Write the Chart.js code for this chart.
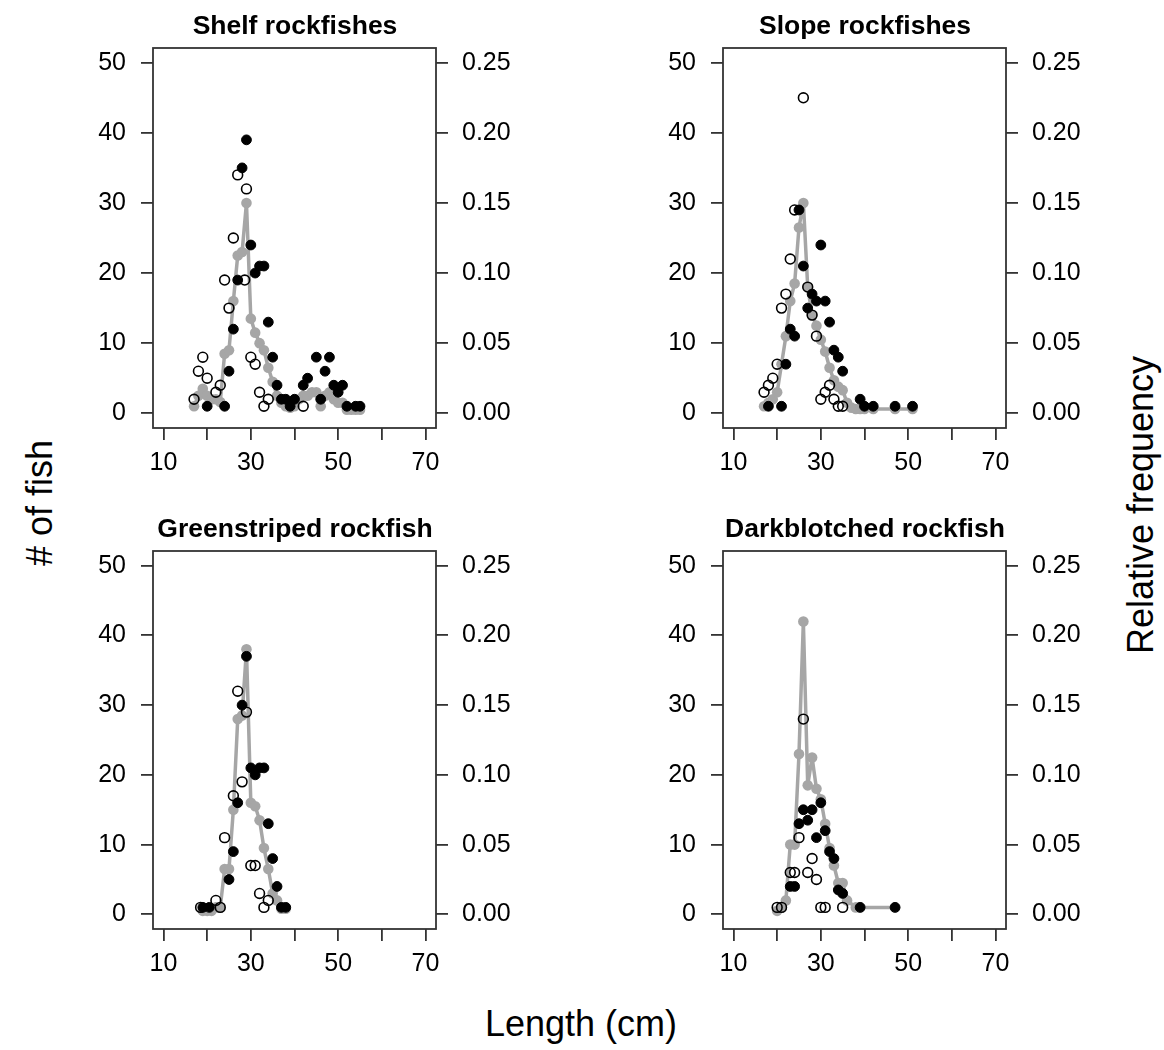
<!DOCTYPE html>
<html>
<head>
<meta charset="utf-8">
<script src="https://cdn.jsdelivr.net/npm/chart.js@4.4.1/dist/chart.umd.min.js"></script>
<style>
  html, body { margin: 0; padding: 0; background: #ffffff; }
  #wrap { position: relative; width: 1164px; height: 1050px; background: #ffffff; overflow: hidden;
          font-family: "Liberation Sans", Arial, Helvetica, sans-serif; color: #000; }
  canvas { position: absolute; }
  .axt { position: absolute; font-size: 36px; white-space: nowrap; line-height: 1; }
</style>
</head>
<body>
<div id="wrap">
  <canvas id="c0" width="450" height="490" style="left:70px;top:0px;"></canvas>
  <canvas id="c1" width="450" height="490" style="left:640px;top:0px;"></canvas>
  <canvas id="c2" width="450" height="488" style="left:70px;top:503px;"></canvas>
  <canvas id="c3" width="450" height="488" style="left:640px;top:503px;"></canvas>
  <div class="axt" style="left:40px;top:503px;transform:translate(-50%,-50%) rotate(-90deg);"># of fish</div>
  <div class="axt" style="left:1141px;top:505px;transform:translate(-50%,-50%) rotate(-90deg);">Relative frequency</div>
  <div class="axt" style="left:581px;top:1024px;transform:translate(-50%,-50%);">Length (cm)</div>
</div>
<script>
// ---- tick labels ----
const xTicks = [10, 20, 30, 40, 50, 60, 70];
const xLabeled = [10, 30, 50, 70];
const countTicks = [0, 10, 20, 30, 40, 50];
const relTicks = [0, 0.05, 0.10, 0.15, 0.20, 0.25];

// ---- panel titles ----
const titles = ["Shelf rockfishes", "Slope rockfishes", "Greenstriped rockfish", "Darkblotched rockfish"];

// ---- Shelf rockfishes: [length cm, # of fish] ----
const shelfOpen = [[17,2],[18,6],[19,8],[20,5],[22,3],[23,4],[24,19],[25,15],[26,25],[27,34],[28.6,19],[29,32],[30,8],[31,7],[32,3],[33,1],[34,2],[42,1]];
const shelfFilled = [[20,1],[24,1],[25,6],[26,12],[27,19],[28,35],[29,39],[30,24],[31,20],[32,21],[33,21],[34,13],[35,8],[36,4],[37,2],[38,2],[39,1],[40,2],[42,4],[43,5],[45,8],[46,2],[47,6],[48,8],[49,4],[50,3],[51,4],[52,1],[54,1],[55,1]];
// relative frequency [length cm, proportion]
const shelfRel = [[17,0.005],[18,0.0125],[19,0.0175],[20,0.0125],[21,0.01],[22,0.01],[23,0.008],[24,0.0425],[25,0.045],[26,0.08],[27,0.1125],[28,0.115],[29,0.15],[30,0.0675],[31,0.0575],[32,0.05],[33,0.045],[34,0.0325],[35,0.0225],[36,0.0125],[37,0.0075],[38,0.005],[39,0.004],[40,0.005],[41,0.01],[42,0.0125],[43,0.0125],[44,0.015],[45,0.015],[46,0.005],[47,0.0125],[48,0.015],[49,0.01],[50,0.0075],[51,0.0075],[52,0.0025],[53,0.0025],[54,0.0025],[55,0.0025]];

// ---- Slope rockfishes ----
const slopeOpen = [[17,3],[18,4],[19,5],[20,7],[21,15],[22,17],[23,22],[24,29],[26,45],[27,18],[28,14],[29,11],[30,2],[31,3],[32,4],[33,2],[34,1],[35,1]];
const slopeFilled = [[18,1],[21,1],[22,7],[23,12],[24,11],[25,29],[26,21],[27,15],[28,17],[29,16],[30,24],[31,16],[32,13],[33,9],[34,8],[35,6],[39,2],[40,1],[42,1],[47,1],[51,1]];
const slopeRel = [[17,0.005],[18,0.0075],[19,0.01],[20,0.015],[21,0.035],[22,0.055],[23,0.08],[24,0.0925],[25,0.1325],[26,0.15],[27,0.09],[28,0.07],[29,0.0625],[30,0.0525],[31,0.044],[32,0.0325],[33,0.0235],[34,0.019],[35,0.0165],[36,0.0075],[37,0.004],[38,0.003],[39,0.003],[40,0.003],[42,0.003],[47,0.003],[51,0.003]];

// ---- Greenstriped rockfish ----
const greenOpen = [[18.5,1],[22,2],[23,1],[24,11],[26,17],[27,32],[28,19],[29,29],[30,7],[31,7],[32,3],[33,1],[34,2]];
const greenFilled = [[19,1],[20.5,1],[25,5],[26,9],[27,16],[28,30],[29,37],[30,21],[31,20],[32,21],[33,21],[34,13],[35,8],[36,4],[37,1],[38,1]];
const greenRel = [[19,0.0025],[20,0.0025],[21,0.0025],[22,0.005],[23,0.005],[24,0.0325],[25,0.0325],[26,0.075],[27,0.14],[28,0.1425],[29,0.19],[30,0.08],[31,0.0775],[32,0.0675],[33,0.0475],[34,0.0325],[35,0.015],[36,0.01],[37,0.004],[38,0.004]];

// ---- Darkblotched rockfish ----
const darkOpen = [[20,1],[21,1],[23,6],[24,6],[25,11],[26,28],[27,6],[28,8],[29,5],[30,1],[31,1],[35,1]];
const darkFilled = [[23,4],[24,4],[25,13],[26,15],[27,13.5],[28,15],[29,11],[30,16],[31,12],[32,9],[33,8],[34,3.5],[35,3],[39,1],[47,1]];
const darkRel = [[20,0.0025],[21,0.005],[22,0.01],[23,0.05],[24,0.05],[25,0.115],[26,0.21],[27,0.0925],[28,0.1125],[29,0.09],[30,0.0825],[31,0.065],[32,0.0475],[33,0.035],[34,0.0225],[35,0.0225],[36,0.01],[38,0.005],[39,0.005],[47,0.005]];

const panelData = [
  { open: shelfOpen, filled: shelfFilled, rel: shelfRel },
  { open: slopeOpen, filled: slopeFilled, rel: slopeRel },
  { open: greenOpen, filled: greenFilled, rel: greenRel },
  { open: darkOpen, filled: darkFilled, rel: darkRel }
];

const FONT = "'Liberation Sans', Arial, Helvetica, sans-serif";
const GRAY = '#a6a6a6';
const AXIS = '#333333';

const boxPlugin = {
  id: 'box',
  beforeDatasetsDraw(chart) {
    const a = chart.chartArea, ctx = chart.ctx;
    ctx.save();
    ctx.strokeStyle = AXIS;
    ctx.lineWidth = 1.8;
    ctx.strokeRect(a.left, a.top, a.right - a.left, a.bottom - a.top);
    ctx.restore();
  }
};

const toPts = arr => arr.map(p => ({ x: p[0], y: p[1] }));

function makeChart(idx) {
  const d = panelData[idx];
  const ctx = document.getElementById('c' + idx);
  new Chart(ctx, {
    type: 'scatter',
    data: {
      datasets: [
        { label: 'open', data: toPts(d.open), yAxisID: 'y', showLine: false,
          pointStyle: 'circle', pointRadius: 4.9, pointBorderWidth: 1.6,
          pointBackgroundColor: 'rgba(255,255,255,0)', pointBorderColor: '#000' },
        { label: 'filled', data: toPts(d.filled), yAxisID: 'y', showLine: false,
          pointStyle: 'circle', pointRadius: 4.9, pointBorderWidth: 1,
          pointBackgroundColor: '#000', pointBorderColor: '#000' },
        { label: 'rel', data: toPts(d.rel), yAxisID: 'y1', showLine: true,
          borderColor: GRAY, borderWidth: 3.5, tension: 0,
          borderJoinStyle: 'round', borderCapStyle: 'round',
          pointStyle: 'circle', pointRadius: 5.3, pointBorderWidth: 0,
          pointBackgroundColor: GRAY, pointBorderColor: GRAY }
      ]
    },
    options: {
      responsive: false,
      animation: false,
      devicePixelRatio: 1,
      layout: { padding: 0 },
      events: [],
      plugins: {
        legend: { display: false },
        tooltip: { enabled: false },
        title: {
          display: true,
          text: titles[idx],
          color: '#000',
          font: { family: FONT, size: 26.5, weight: 'bold', lineHeight: 1.2 },
          padding: { top: 11, bottom: 5.2 }
        }
      },
      scales: {
        x: {
          type: 'linear', position: 'bottom', min: 7.6, max: 72.4,
          afterBuildTicks: s => { s.ticks = xTicks.map(v => ({ value: v })); },
          afterFit: s => { s.height = 62; },
          ticks: { autoSkip: false, maxRotation: 0, color: '#000', padding: 8,
                   font: { family: FONT, size: 25 },
                   callback: v => xLabeled.includes(v) ? String(v) : '' },
          grid: { drawOnChartArea: false, drawTicks: true, tickLength: 12, color: AXIS, lineWidth: 1.8 },
          border: { display: false }
        },
        y: {
          type: 'linear', position: 'left', min: -2.1, max: 52.1,
          afterBuildTicks: s => { s.ticks = countTicks.map(v => ({ value: v })); },
          afterFit: s => { s.width = 83; },
          ticks: { color: '#000', padding: 15, font: { family: FONT, size: 25 },
                   callback: v => String(v) },
          grid: { drawOnChartArea: false, drawTicks: true, tickLength: 12, color: AXIS, lineWidth: 1.8 },
          border: { display: false }
        },
        y1: {
          type: 'linear', position: 'right', min: -0.0105, max: 0.2605,
          afterBuildTicks: s => { s.ticks = relTicks.map(v => ({ value: v })); },
          afterFit: s => { s.width = 84; },
          ticks: { color: '#000', padding: 14, font: { family: FONT, size: 25 },
                   callback: v => Number(v).toFixed(2) },
          grid: { drawOnChartArea: false, drawTicks: true, tickLength: 12, color: AXIS, lineWidth: 1.8 },
          border: { display: false }
        }
      }
    },
    plugins: [boxPlugin]
  });
}

[0, 1, 2, 3].forEach(makeChart);
</script>
</body>
</html>
